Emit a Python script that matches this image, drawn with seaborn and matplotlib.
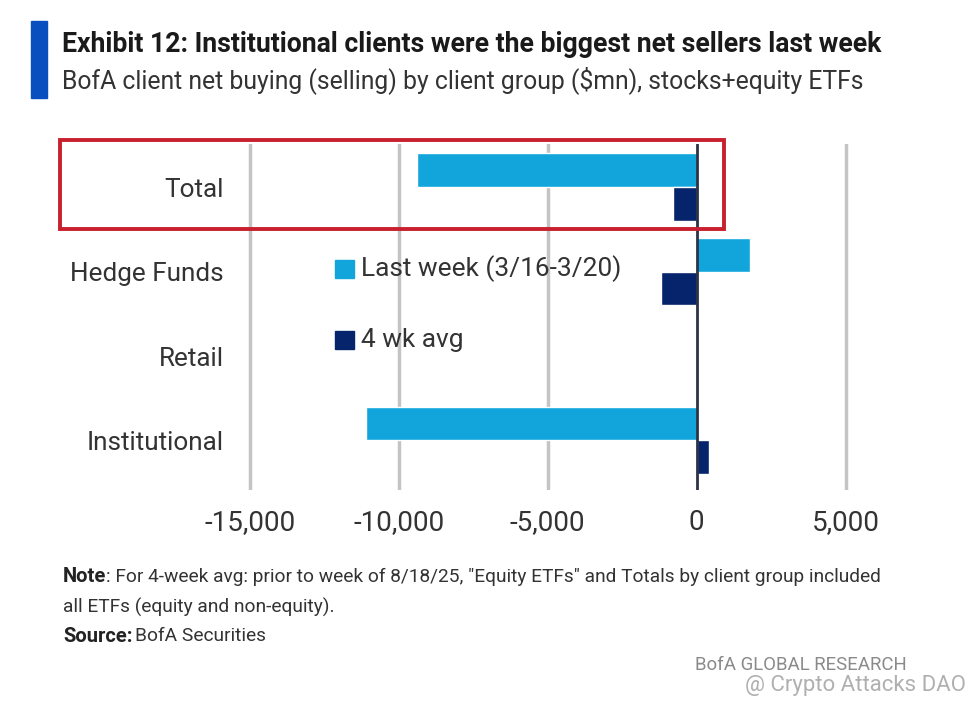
import matplotlib
matplotlib.use("Agg")
import matplotlib.pyplot as plt
from matplotlib.patches import Rectangle
import pandas as pd
import seaborn as sns

categories = ["Total", "Hedge Funds", "Retail", "Institutional"]
series_names = ["Last week (3/16-3/20)", "4 wk avg"]
last_week = [-9400, 1800, -30, -11100]
avg_4wk = [-800, -1200, 60, 400]
x_ticks = [-15000, -10000, -5000, 0, 5000]
x_labels = ["-15,000", "-10,000", "-5,000", "0", "5,000"]
colors = ["#12a5dc", "#06246b"]

df = pd.DataFrame({"Group": categories * 2,
                   "Series": [series_names[0]] * 4 + [series_names[1]] * 4,
                   "Value": last_week + avg_4wk})

sns.set_theme(style="white")
plt.rcParams['font.family'] = ['Roboto', 'DejaVu Sans']
W, H = 974, 709
fig = plt.figure(figsize=(W / 100, H / 100), dpi=100, facecolor="white")
ax = fig.add_axes([228 / W, 1 - 490 / H, (860 - 228) / W, (490 - 144) / H])
sns.barplot(data=df, y="Group", x="Value", hue="Series", order=categories,
            hue_order=series_names, palette=colors, width=0.8, saturation=1,
            legend=False, ax=ax, zorder=3)
ax.set_xlim(-15730, 5480)
ax.set_ylim(3.586, -0.51)
ax.set_xlabel(""); ax.set_ylabel("")
ax.set_xticks(x_ticks, x_labels)
ax.tick_params(axis="x", labelsize=20, colors="#333333", length=0, pad=14)
ax.tick_params(axis="y", labelsize=18.8, colors="#333333", length=0, pad=3)
for s in ax.spines.values():
    s.set_visible(False)
for t in x_ticks:
    if t != 0:
        ax.axvline(t, color="#c4c4c4", lw=2.5, zorder=1)
ax.axvline(0, color="#2a3347", lw=2, zorder=4)

# Header accent
fig.add_artist(Rectangle((31 / W, 1 - 98 / H), 16 / W, 77 / H, transform=fig.transFigure, color="#0a4fc0"))
fig.text(62 / W, 1 - 44 / H, "Exhibit 12: Institutional clients were the biggest net sellers last week",
         fontsize=19.2, fontweight="bold", color="#1a1a1a", va="center")
fig.text(62 / W, 1 - 80 / H, "BofA client net buying (selling) by client group ($mn), stocks+equity ETFs",
         fontsize=17.8, color="#333333", va="center")

# Red highlight
fig.add_artist(Rectangle((60 / W, 1 - 229 / H), 664 / W, 89 / H, transform=fig.transFigure,
                         fill=False, ec="#c8202f", lw=2.8, zorder=10))

# Legend
for y, c, label in [(269, colors[0], series_names[0]), (340, colors[1], series_names[1])]:
    fig.add_artist(Rectangle((335 / W, 1 - (y + 9) / H), 19 / W, 18 / H, transform=fig.transFigure, color=c, zorder=6))
    fig.text(361 / W, 1 - y / H, label, fontsize=18.9, color="#333333", va="center", zorder=6)

# Notes
fig.text(63 / W, 1 - 577 / H, "Note", fontsize=14.5, fontweight="bold", color="#222222", va="center")
fig.text(106 / W, 1 - 577 / H, ': For 4-week avg: prior to week of 8/18/25, "Equity ETFs" and Totals by client group included',
         fontsize=13.8, color="#333333", va="center")
fig.text(63 / W, 1 - 607 / H, "all ETFs (equity and non-equity).", fontsize=13.8, color="#333333", va="center")
fig.text(63 / W, 1 - 636 / H, "Source:", fontsize=14.5, fontweight="bold", color="#222222", va="center")
fig.text(135 / W, 1 - 636 / H, "BofA Securities", fontsize=13.8, color="#333333", va="center")
fig.text(907 / W, 1 - 665 / H, "BofA GLOBAL RESEARCH", fontsize=13.4, color="#8a8a8a", va="center", ha="right")
fig.text(966 / W, 1 - 685 / H, "@ Crypto Attacks DAO", fontsize=16, color="#b0b0b0", va="center", ha="right")

fig.savefig("out.png", dpi=100)
